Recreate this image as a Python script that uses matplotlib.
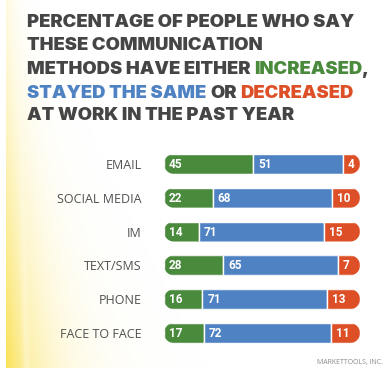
import numpy as np
import matplotlib
matplotlib.use("Agg")
import matplotlib.pyplot as plt
from matplotlib.patches import PathPatch
from matplotlib.path import Path

# ---- data ----
categories = ["EMAIL", "SOCIAL MEDIA", "IM", "TEXT/SMS", "PHONE", "FACE TO FACE"]
increased = [45, 22, 14, 28, 16, 17]
same = [51, 68, 71, 65, 71, 72]
decreased = [4, 10, 15, 7, 13, 11]

GRAY = "#454545"
GREEN = "#4a8a3c"
BLUE = "#4f82c3"
ORANGE = "#dd5027"

title_lines = [
    [("PERCENTAGE OF PEOPLE WHO SAY", GRAY)],
    [("THESE COMMUNICATION", GRAY)],
    [("METHODS HAVE EITHER", GRAY), ("INCREASED", GREEN), (",", GRAY, "nospace")],
    [("STAYED THE SAME", BLUE), ("OR", GRAY), ("DECREASED", ORANGE)],
    [("AT WORK IN THE PAST YEAR", GRAY)],
]
credit = "MARKETTOOLS, INC."

W, H = 387, 373
fig = plt.figure(figsize=(W / 100, H / 100), dpi=100)
fig.patch.set_facecolor("white")

# ---- background glow ----
bg = fig.add_axes([6 / W, 5 / H, 1 - 6 / W, 368 / H], zorder=0)
bg.axis("off")
nh, nw = 368, 381
yy, xx = np.mgrid[0:nh, 0:nw]
fy = yy / nh
width = 9 + 28 * fy
amp = 0.18 + 0.72 * fy ** 1.4
alpha = amp * np.exp(-xx / width)
alpha *= 1 - 0.35 * np.exp(-((xx - 12 - 8 * fy) / 3.5) ** 2) * fy
img = np.zeros((nh, nw, 4))
img[..., 0] = 250 / 255
img[..., 1] = 222 / 255
img[..., 2] = 66 / 255
img[..., 3] = np.clip(alpha, 0, 1)
bg.imshow(img, aspect="auto", extent=(0, nw, nh, 0), interpolation="bilinear")
bg.set_xlim(0, nw)
bg.set_ylim(nh, 0)

# ---- bars ----
x0, x1 = 164, 360          # pixel extent of the bars including round caps
ytop, ybot = 147, 350
cap_px = 10.0
ax = fig.add_axes([x0 / W, 1 - ybot / H, (x1 - x0) / W, (ybot - ytop) / H], zorder=2)
pxx = (x1 - x0 - 2 * cap_px) / 100.0
rx = cap_px / pxx
ax.set_xlim(-rx, 100 + rx)
ax.set_ylim(len(categories) - 0.5, -0.5)
ax.patch.set_alpha(0)
pxy = (ybot - ytop) / len(categories)
bar_h = 2 * cap_px / pxy
hh = bar_h / 2


def stadium(yc):
    t1 = np.linspace(np.pi / 2, 3 * np.pi / 2, 40)
    t2 = np.linspace(-np.pi / 2, np.pi / 2, 40)
    xs = np.concatenate([rx * np.cos(t1), 100 + rx * np.cos(t2)])
    ys = np.concatenate([yc + hh * np.sin(t1), yc + hh * np.sin(t2)])
    verts = np.column_stack([xs, ys])
    verts = np.vstack([verts, verts[:1]])
    codes = [Path.MOVETO] + [Path.LINETO] * (len(verts) - 2) + [Path.CLOSEPOLY]
    return Path(verts, codes)


for i in range(len(categories)):
    clip = PathPatch(stadium(i), facecolor="none", edgecolor="none",
                     transform=ax.transData)
    ax.add_patch(clip)
    segs = [(increased[i], GREEN), (same[i], BLUE), (decreased[i], ORANGE)]
    left = 0
    for k, (val, col) in enumerate(segs):
        start = left - (rx if k == 0 else 0)
        end = left + val + (rx if k == len(segs) - 1 else 0)
        b = ax.barh(i, end - start, left=start, height=bar_h, color=col,
                    edgecolor="white", linewidth=1.0)
        for p in b:
            p.set_clip_path(clip)
        ax.annotate(str(val), xy=(start, i), xytext=(3.6, -0.4),
                    textcoords="offset points", ha="left", va="center",
                    color="white", fontsize=8.5, fontweight="bold",
                    family="Roboto")
        left += val

ax.set_yticks(range(len(categories)))
ax.set_yticklabels(categories, fontsize=9, color="#505050", family="Open Sans")
ax.tick_params(axis="y", length=0, pad=16)
ax.set_xticks([])
for s in ax.spines.values():
    s.set_visible(False)

# ---- title ----
renderer = fig.canvas.get_renderer()
tprops = dict(family="Inter", fontweight="black", va="baseline", ha="left")


def text_w(s, size):
    t = fig.text(0, 0, s, fontsize=size, **tprops)
    w = t.get_window_extent(renderer).width
    t.remove()
    return w

tsize = 12 * 328 / text_w(title_lines[0][0][0], 12)
space_w = text_w("A A", tsize) - text_w("AA", tsize)
baselines = [27, 50.5, 74, 97.5, 120.5]
for line, by in zip(title_lines, baselines):
    xpx = 27
    for k, piece in enumerate(line):
        txt, col = piece[0], piece[1]
        if k > 0 and not (len(piece) > 2 and piece[2] == "nospace"):
            xpx += space_w
        t = fig.text(xpx / W, 1 - by / H, txt, color=col, fontsize=tsize, **tprops)
        xpx += t.get_window_extent(renderer).width

fig.text(383 / W, 1 - 364 / H, credit, ha="right", va="baseline",
         fontsize=5, color="#8a8a8a", family="Open Sans")

fig.savefig("out.png", dpi=100)
